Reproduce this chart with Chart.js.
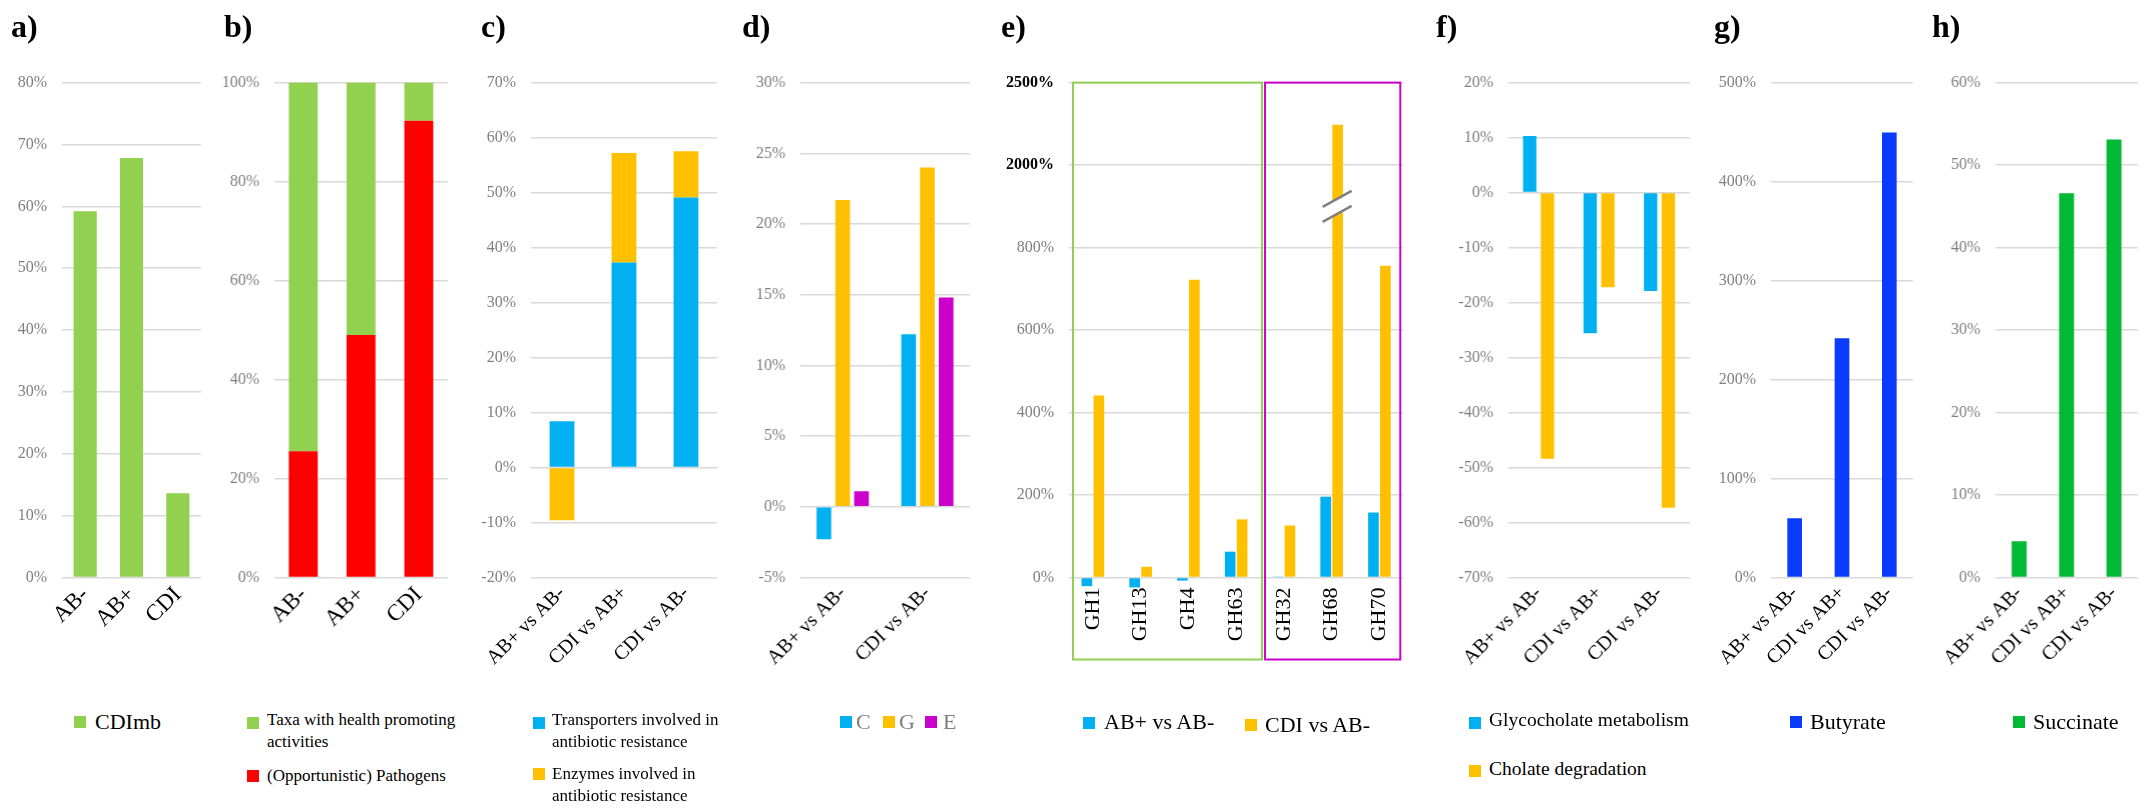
<!DOCTYPE html>
<html>
<head>
<meta charset="utf-8">
<script src="https://cdn.jsdelivr.net/npm/chart.js@4.4.1/dist/chart.umd.min.js"></script>
<style>
  body { margin: 0; background: #fff; }
  #fig { position: relative; width: 2154px; height: 809px; overflow: hidden; font-family: 'Liberation Serif', Tinos, 'DejaVu Serif', 'Noto Serif', serif; }
  .cv { position: absolute; top: 40px; height: 660px; }
  .title { position: absolute; top: 7px; font-size: 32px; font-weight: bold; line-height: 38px; }
  .lg { position: absolute; white-space: nowrap; }
  .sw { position: absolute; width: 12px; height: 12px; }
</style>
</head>
<body>
<div id="fig"></div>
<script>
// ---- data ----
const groups = ['AB-', 'AB+', 'CDI'];
const comparisons = ['AB+ vs AB-', 'CDI vs AB+', 'CDI vs AB-'];

const aCDImb = [59.2, 67.8, 13.6];

const bPathogens = [25.5, 49.0, 92.3];
const bHealthy = [74.5, 51.0, 7.7];

const cTransporters = [8.4, 37.3, 49.1];
const cEnzymes = [-9.6, 19.9, 8.4];

const dLabels = ['AB+ vs AB-', 'CDI vs AB-'];
const dC = [-2.3, 12.2];
const dG = [21.7, 24.0];
const dE = [1.1, 14.8];

const eLabels = ['GH1', 'GH13', 'GH4', 'GH63', 'GH32', 'GH68', 'GH70'];
const eABplus = [-21, -24, -7.5, 62.6, 1, 196, 157.5];
const eCDI = [441.6, 26, 722, 141, 126, 2245, 756];
const eTicks = [0, 200, 400, 600, 800, 2000, 2500];

const fGlyco = [10.3, -25.6, -17.9];
const fCholate = [-48.4, -17.2, -57.3];

const gButyrate = [59.9, 241.6, 449.5];
const hSuccinate = [4.4, 46.6, 53.1];

const green = '#92d050', red = '#ff0000', blue = '#00b0f0', orange = '#ffc000', magenta = '#cc00cc';
const darkBlue = '#0a3cff', brightGreen = '#00b934';

Chart.defaults.font.family = "'Liberation Serif', Tinos, 'DejaVu Serif', 'Noto Serif', serif";

const fig = document.getElementById('fig');
const CANVAS_TOP = 40, CANVAS_BOTTOM = 700, PLOT_TOP = 82.6, PLOT_BOTTOM = 577.5;

// broken axis of panel e: map a value onto tick index units
function eIndex(v) {
  if (v <= eTicks[1]) return v / eTicks[1];
  for (let i = 1; i < eTicks.length - 1; i++) {
    if (v <= eTicks[i + 1]) return i + (v - eTicks[i]) / (eTicks[i + 1] - eTicks[i]);
  }
  return eTicks.length - 1;
}

function baseOptions(yMin, yMax, step, labelSize) {
  return {
    responsive: true,
    maintainAspectRatio: false,
    animation: false,
    plugins: { legend: { display: false }, tooltip: { enabled: false } },
    scales: {
      x: {
        grid: { display: false, drawTicks: false },
        border: { display: false },
        ticks: { color: '#000', font: { size: labelSize || 20 }, minRotation: 45, maxRotation: 45, autoSkip: false, padding: 4 }
      },
      y: {
        min: yMin,
        max: yMax,
        grid: { color: '#d9d9d9', lineWidth: 1.5, drawTicks: false },
        border: { display: false },
        ticks: { stepSize: step, color: '#7f7f7f', font: { size: 16 }, padding: 15, callback: v => v + '%' }
      }
    }
  };
}

function panel(plotL, plotR, config) {
  const left = Math.max(0, plotL - 110);
  const right = plotR + 15;
  const div = document.createElement('div');
  div.className = 'cv';
  div.style.left = left + 'px';
  div.style.width = (right - left) + 'px';
  const cv = document.createElement('canvas');
  div.appendChild(cv);
  fig.appendChild(div);
  config.options.layout = { padding: { top: PLOT_TOP - CANVAS_TOP, right: right - plotR, left: 0, bottom: 0 } };
  config.options.scales.y.afterFit = s => { s.width = plotL - left; };
  config.options.scales.x.afterFit = s => { s.height = CANVAS_BOTTOM - PLOT_BOTTOM; };
  return new Chart(cv, config);
}

function title(text, x) {
  const t = document.createElement('div');
  t.className = 'title';
  t.style.left = x + 'px';
  t.textContent = text;
  fig.appendChild(t);
}

function legendItem(sqX, sqY, color, txtX, txtY, lines, size, lineH, textColor) {
  const sw = document.createElement('div');
  sw.className = 'sw';
  sw.style.left = sqX + 'px';
  sw.style.top = (sqY - 6) + 'px';
  sw.style.background = color;
  fig.appendChild(sw);
  const t = document.createElement('div');
  t.className = 'lg';
  t.style.left = txtX + 'px';
  t.style.top = (txtY - lineH / 2) + 'px';
  t.style.fontSize = size + 'px';
  t.style.lineHeight = lineH + 'px';
  t.style.color = textColor || '#000';
  lines.forEach((line, i) => {
    if (i) t.appendChild(document.createElement('br'));
    t.appendChild(document.createTextNode(line));
  });
  fig.appendChild(t);
}

// ---- a ----
let opts = baseOptions(0, 80, 10, 23);
panel(62, 201, {
  type: 'bar',
  data: { labels: groups, datasets: [{ label: 'CDImb', data: aCDImb, backgroundColor: green, barPercentage: 0.5, categoryPercentage: 1 }] },
  options: opts
});

// ---- b ----
opts = baseOptions(0, 100, 20, 23);
opts.scales.x.stacked = true;
opts.scales.y.stacked = true;
panel(274, 446.7, {
  type: 'bar',
  data: {
    labels: groups,
    datasets: [
      { label: '(Opportunistic) Pathogens', data: bPathogens, backgroundColor: red, barPercentage: 0.5, categoryPercentage: 1 },
      { label: 'Taxa with health promoting activities', data: bHealthy, backgroundColor: green, barPercentage: 0.5, categoryPercentage: 1 }
    ]
  },
  options: opts
});

// ---- c ----
opts = baseOptions(-20, 70, 10);
opts.scales.x.stacked = true;
opts.scales.y.stacked = true;
panel(530.7, 716.7, {
  type: 'bar',
  data: {
    labels: comparisons,
    datasets: [
      { label: 'Transporters involved in antibiotic resistance', data: cTransporters, backgroundColor: blue, barPercentage: 0.4, categoryPercentage: 1 },
      { label: 'Enzymes involved in antibiotic resistance', data: cEnzymes, backgroundColor: orange, barPercentage: 0.4, categoryPercentage: 1 }
    ]
  },
  options: opts
});

// ---- d ----
opts = baseOptions(-5, 30, 5);
panel(800, 968.7, {
  type: 'bar',
  data: {
    labels: dLabels,
    datasets: [
      { label: 'C', data: dC, backgroundColor: blue, barPercentage: 0.78, categoryPercentage: 0.666 },
      { label: 'G', data: dG, backgroundColor: orange, barPercentage: 0.78, categoryPercentage: 0.666 },
      { label: 'E', data: dE, backgroundColor: magenta, barPercentage: 0.78, categoryPercentage: 0.666 }
    ]
  },
  options: opts
});

// ---- e ----
const eBoxes = {
  id: 'eBoxes',
  afterDatasetsDraw(chart) {
    const ctx = chart.ctx, area = chart.chartArea, x = chart.scales.x, y = chart.scales.y;
    const mid = (x.getPixelForValue(3) + x.getPixelForValue(4)) / 2;
    const top = y.getPixelForValue(eTicks.length - 1);
    const bottom = area.bottom + 82;
    ctx.save();
    ctx.lineWidth = 2;
    ctx.strokeStyle = green;
    ctx.strokeRect(area.left + 4, top, mid + 2 - area.left - 4, bottom - top);
    ctx.strokeStyle = magenta;
    ctx.strokeRect(mid + 5, top, area.right - 3 - mid - 5, bottom - top);
    // break mark on the GH68 bar
    const bar = chart.getDatasetMeta(1).data[5];
    const yb = y.getPixelForValue(4.5);
    const x0 = bar.x - 15, x1 = bar.x + 14;
    ctx.beginPath();
    ctx.moveTo(x0, yb + 0.6);
    ctx.lineTo(x1, yb - 15.4);
    ctx.lineTo(x1, yb - 0.5);
    ctx.lineTo(x0, yb + 15.5);
    ctx.closePath();
    ctx.fillStyle = '#fff';
    ctx.fill();
    ctx.strokeStyle = '#808080';
    ctx.lineWidth = 2.5;
    ctx.beginPath();
    ctx.moveTo(x0, yb + 0.6);
    ctx.lineTo(x1, yb - 15.4);
    ctx.moveTo(x0, yb + 15.5);
    ctx.lineTo(x1, yb - 0.5);
    ctx.stroke();
    ctx.restore();
  }
};
opts = baseOptions(0, eTicks.length - 1, 1);
opts.scales.y.ticks.callback = v => eTicks[v] + '%';
opts.scales.y.ticks.color = c => c.index >= 5 ? '#000' : '#7f7f7f';
opts.scales.y.ticks.font = c => c.index >= 5 ? { size: 16, weight: 'bold' } : { size: 16 };
opts.scales.x.ticks.minRotation = 90;
opts.scales.x.ticks.maxRotation = 90;
opts.scales.x.ticks.font = { size: 22 };
opts.scales.x.ticks.padding = 10;
panel(1068.5, 1402.8, {
  type: 'bar',
  data: {
    labels: eLabels,
    datasets: [
      { label: 'AB+ vs AB-', data: eABplus.map(eIndex), backgroundColor: blue, barPercentage: 0.89, categoryPercentage: 0.5, clip: false },
      { label: 'CDI vs AB-', data: eCDI.map(eIndex), backgroundColor: orange, barPercentage: 0.89, categoryPercentage: 0.5, clip: false }
    ]
  },
  options: opts,
  plugins: [eBoxes]
});

// ---- f ----
opts = baseOptions(-70, 20, 10);
panel(1508.3, 1689, {
  type: 'bar',
  data: {
    labels: comparisons,
    datasets: [
      { label: 'Glycocholate metabolism', data: fGlyco, backgroundColor: blue, barPercentage: 0.75, categoryPercentage: 0.587 },
      { label: 'Cholate degradation', data: fCholate, backgroundColor: orange, barPercentage: 0.75, categoryPercentage: 0.587 }
    ]
  },
  options: opts
});

// ---- g ----
opts = baseOptions(0, 500, 100);
panel(1770.7, 1912.7, {
  type: 'bar',
  data: { labels: comparisons, datasets: [{ label: 'Butyrate', data: gButyrate, backgroundColor: darkBlue, barPercentage: 0.31, categoryPercentage: 1 }] },
  options: opts
});

// ---- h ----
opts = baseOptions(0, 60, 10);
panel(1995, 2136.7, {
  type: 'bar',
  data: { labels: comparisons, datasets: [{ label: 'Succinate', data: hSuccinate, backgroundColor: brightGreen, barPercentage: 0.316, categoryPercentage: 1 }] },
  options: opts
});

// ---- titles ----
title('a)', 11); title('b)', 224); title('c)', 481); title('d)', 742);
title('e)', 1001); title('f)', 1436); title('g)', 1714); title('h)', 1932);

// ---- legends ----
legendItem(74, 722, green, 95, 722, ['CDImb'], 22, 26);
legendItem(247, 723, green, 267, 720, ['Taxa with health promoting', 'activities'], 17, 21.5);
legendItem(247, 776, red, 267, 776, ['(Opportunistic) Pathogens'], 17, 21.5);
legendItem(533, 723, blue, 552, 720, ['Transporters involved in', 'antibiotic resistance'], 17, 21.5);
legendItem(533, 774, orange, 552, 774, ['Enzymes involved in', 'antibiotic resistance'], 17, 21.5);
legendItem(840, 722, blue, 856, 722, ['C'], 22, 26, '#7f7f7f');
legendItem(883, 722, orange, 899, 722, ['G'], 22, 26, '#7f7f7f');
legendItem(925, 722, magenta, 943, 722, ['E'], 22, 26, '#7f7f7f');
legendItem(1083, 723, blue, 1104, 722, ['AB+ vs AB-'], 22, 26);
legendItem(1245, 725, orange, 1265, 725, ['CDI vs AB-'], 22, 26);
legendItem(1469, 723, blue, 1489, 720, ['Glycocholate metabolism'], 19.5, 24);
legendItem(1469, 771, orange, 1489, 769, ['Cholate degradation'], 19.5, 24);
legendItem(1790, 722, darkBlue, 1810, 722, ['Butyrate'], 22, 26);
legendItem(2013, 722, brightGreen, 2033, 722, ['Succinate'], 22, 26);
</script>
</body>
</html>
